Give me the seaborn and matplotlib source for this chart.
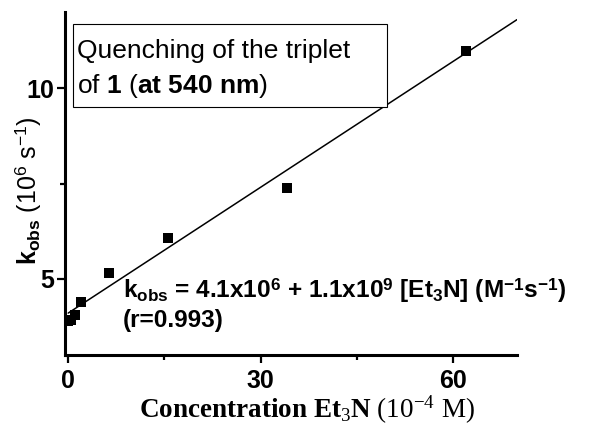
import matplotlib
matplotlib.use("Agg")
import matplotlib.pyplot as plt
import pandas as pd
import seaborn as sns
from matplotlib.patches import Rectangle
from matplotlib.ticker import MultipleLocator

# ── Data ──────────────────────────────────────────────────────────────────────
conc = [0.0, 0.5, 1.0, 2.0, 6.4, 15.6, 34.2, 62.0]          # [Et3N], 10^-4 M
k_obs = [3.88, 3.92, 4.05, 4.38, 5.16, 6.08, 7.39, 10.97]   # 10^6 s^-1

# linear fit given in the chart: k = 4.1e6 + 1.1e9 [Et3N]
fit_intercept = 4.1     # 10^6 s^-1
fit_slope = 0.11        # 10^6 s^-1 per 10^-4 M
fit_x = [0.0, 70.0]

x_ticks_major, x_ticks_minor = 30, 15
y_ticks_major, y_ticks_minor = 5, 2.5

df = pd.DataFrame({"conc": conc, "k_obs": k_obs})
fit_df = pd.DataFrame({"conc": fit_x})
fit_df["k_obs"] = fit_intercept + fit_slope * fit_df["conc"]

# ── Style ─────────────────────────────────────────────────────────────────────
sns.set_theme(style="ticks", rc={
    "text.color": "black", "axes.labelcolor": "black",
    "axes.edgecolor": "black", "xtick.color": "black", "ytick.color": "black",
})
plt.rcParams["font.family"] = ["Liberation Sans", "DejaVu Sans"]
plt.rcParams["mathtext.fontset"] = "custom"
plt.rcParams["mathtext.rm"] = "Liberation Serif"
plt.rcParams["mathtext.sf"] = "Liberation Sans"
plt.rcParams["mathtext.bf"] = "Liberation Sans:bold"
plt.rcParams["mathtext.it"] = "Liberation Serif:bold"

fig = plt.figure(figsize=(5.89, 4.28), dpi=100)
ax = fig.add_axes([65 / 589, 73 / 428, 452 / 589, 343 / 428])

sns.lineplot(data=fit_df, x="conc", y="k_obs", ax=ax, color="black",
             linewidth=1.1, zorder=2)
sns.scatterplot(data=df, x="conc", y="k_obs", ax=ax, marker="s", s=55,
                color="black", edgecolor="black", linewidth=0, zorder=3)

ax.set_xlim(-0.5, 70)
ax.set_ylim(3, 12)
ax.xaxis.set_major_locator(MultipleLocator(x_ticks_major))
ax.xaxis.set_minor_locator(MultipleLocator(x_ticks_minor))
ax.yaxis.set_major_locator(MultipleLocator(y_ticks_major))
ax.yaxis.set_minor_locator(MultipleLocator(y_ticks_minor))

for side in ("top", "right"):
    ax.spines[side].set_visible(False)
for side in ("left", "bottom"):
    ax.spines[side].set_linewidth(2.2)

ax.tick_params(which="major", direction="out", length=6, width=1.6,
               labelsize=18, pad=1.5)
ax.tick_params(axis="x", which="major", pad=4)
ax.tick_params(which="minor", direction="out", length=3.5, width=1.6)
for lbl in ax.get_xticklabels() + ax.get_yticklabels():
    lbl.set_fontweight("bold")

# ── Axis labels ───────────────────────────────────────────────────────────────
ax.set_ylabel(r"$\mathbf{k_{obs}}$ (10$^{\mathsf{6}}$ s$^{\mathsf{-1}}$)",
              fontsize=18)
ax.yaxis.set_label_coords(-0.048, 0.478)

ax.set_xlabel(r"Concentration Et$_{\mathit{3}}$N $\mathrm{(10^{-4}\ M)}$",
              fontsize=19.5, fontweight="bold",
              family=["Liberation Serif", "DejaVu Serif"])
ax.xaxis.set_label_coords(0.535, -0.112)

# ── Annotation box ────────────────────────────────────────────────────────────
ax.add_patch(Rectangle((0.018, 0.723), 0.694, 0.242, transform=ax.transAxes,
                       facecolor="white", edgecolor="black", linewidth=0.8,
                       zorder=4))
ax.text(0.027, 0.866, "Quenching of the triplet", transform=ax.transAxes,
        fontsize=19, va="baseline", zorder=5)
ax.text(0.027, 0.764, r"of $\mathbf{1}$ ($\mathbf{at\ 540\ nm}$)",
        transform=ax.transAxes, fontsize=19, va="baseline", zorder=5)

# ── Fit equation ──────────────────────────────────────────────────────────────
ax.text(0.128, 0.166,
        r"$\mathbf{k_{obs}}$ = 4.1x10$^{\mathbf{6}}$ + 1.1x10$^{\mathbf{9}}$ "
        r"[Et$_{\mathbf{3}}$N] (M$^{\mathbf{-1}}$s$^{\mathbf{-1}}$)",
        transform=ax.transAxes, fontsize=17.6, fontweight="bold",
        va="baseline", zorder=5, clip_on=False)
ax.text(0.128, 0.082, "(r=0.993)", transform=ax.transAxes, fontsize=17.6,
        fontweight="bold", va="baseline", zorder=5)

fig.savefig("out.png", dpi=100)
plt.close(fig)
